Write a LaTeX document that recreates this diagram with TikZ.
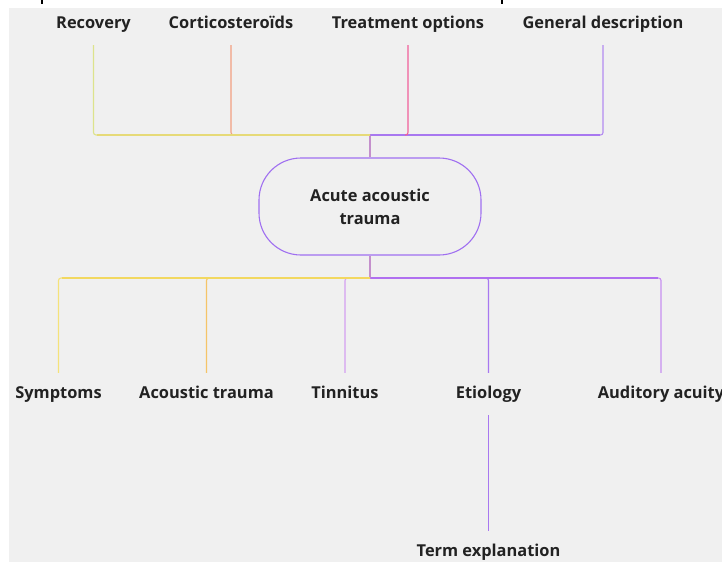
\documentclass[tikz,border=0pt]{standalone}
\usepackage{fontspec}
\setmainfont{Open Sans}
\usetikzlibrary{positioning}
\definecolor{canvas}{HTML}{F0F0F0}
\definecolor{ink}{HTML}{222222}
\definecolor{cRec}{HTML}{DDE38C}
\definecolor{cCort}{HTML}{F2A080}
\definecolor{cTreat}{HTML}{F0609A}
\definecolor{cGen}{HTML}{B48CF0}
\definecolor{cTopL}{HTML}{E6DA78}
\definecolor{cTopR}{HTML}{A878F0}
\definecolor{cStem}{HTML}{C490CC}
\definecolor{cSym}{HTML}{F5E27A}
\definecolor{cAco}{HTML}{F5C468}
\definecolor{cTin}{HTML}{D4A0F0}
\definecolor{cEti}{HTML}{A878F0}
\definecolor{cAud}{HTML}{C890F0}
\definecolor{cBotL}{HTML}{F2D860}
\definecolor{cBotR}{HTML}{B070F0}
\definecolor{cRoot}{HTML}{A070F0}
\tikzset{
  label/.style={font=\fontsize{16.4}{20}\selectfont\bfseries, text=ink,
    text height=12pt, text depth=4pt, minimum height=42pt, inner sep=0pt},
  root/.style={draw=cRoot, line width=1.1pt, rounded corners=42pt,
    minimum width=222pt, minimum height=97pt, align=center,
    font=\fontsize{16.4}{23}\selectfont\bfseries, text=ink},
  link/.style={line width=1.1pt, rounded corners=2.5pt},
}
\begin{document}
\begin{tikzpicture}[x=1pt,y=-1pt]
  \useasboundingbox (0,0) rectangle (722,562);
  \fill[white] (0,0) rectangle (722,562);
  \fill[canvas] (9,8) rectangle (722,562);
  \draw[black, line width=2pt] (42,0) -- (42,4);
  \draw[black, line width=2pt] (502,0) -- (502,4);

  % central topic
  \node[root] (acute) at (370,206.5) {Acute acoustic\\trauma};

  % upper branches
  \node[label] (recovery)  at (93.5,24) {Recovery};
  \node[label] (cortico)   at (231,24) {Corticosteroïds};
  \node[label] (treatment) at (408,24) {Treatment options};
  \node[label] (general)   at (603,24) {General description};

  % lower branches
  \node[label] (symptoms) at (58.5,394) {Symptoms};
  \node[label] (acoustic) at (206.5,394) {Acoustic trauma};
  \node[label] (tinnitus) at (345,394) {Tinnitus};
  \node[label] (etiology) at (488.5,394) {Etiology};
  \node[label] (auditory) at (661,394) {Auditory acuity};
  \node[label] (term)     at (488.5,552) {Term explanation};

  % junctions
  \coordinate (jtop) at (370,135);
  \coordinate (jbot) at (370,278);

  \draw[link, cStem] (acute.north) -- (jtop);
  \draw[link, cStem] (acute.south) -- (jbot);

  \draw[link, cGen]   (jtop) -| (general.south);
  \draw[link, cTopR]  (jtop) -- (600,135);
  \draw[link, cTreat] (jtop) -| (treatment.south);
  \draw[link, cTopR]  (jtop) -- (405,135);
  \draw[link, cCort]  (jtop) -| (cortico.south);
  \draw[link, cRec]   (jtop) -| (recovery.south);
  \draw[link, cTopL]  (jtop) -- (97,135);

  \draw[link, cAud]  (jbot) -| (auditory.north);
  \draw[link, cEti]  (jbot) -| (etiology.north);
  \draw[link, cBotR] (jbot) -- (658,278);
  \draw[link, cTin]  (jbot) -| (tinnitus.north);
  \draw[link, cAco]  (jbot) -| (acoustic.north);
  \draw[link, cSym]  (jbot) -| (symptoms.north);
  \draw[link, cBotL] (jbot) -- (62,278);

  \draw[link, cEti] (etiology.south) -- (term.north);
\end{tikzpicture}
\end{document}
